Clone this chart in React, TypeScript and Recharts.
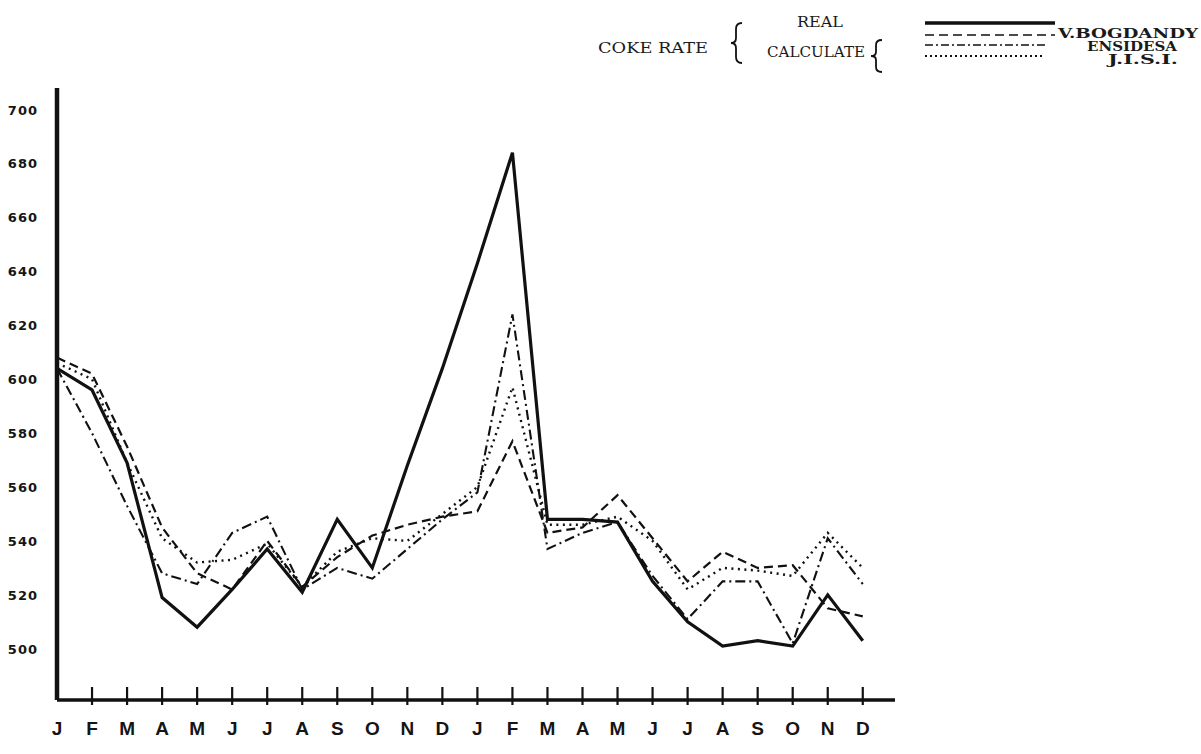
import React from 'react';
import { LineChart, Line, XAxis, YAxis } from 'recharts';

const months = ['J','F','M','A','M','J','J','A','S','O','N','D','J','F','M','A','M','J','J','A','S','O','N','D'];
const realRate = [604,596,569,519,508,522,537,521,548,530,568,604,643,684,548,548,547,525,510,501,503,501,520,503];
const bogdandy = [608,602,575,545,528,522,540,523,534,542,546,549,551,577,543,545,557,541,525,536,530,531,515,512];
const ensidesa = [604,580,553,528,524,543,549,522,530,526,537,548,558,624,537,543,547,527,511,525,525,502,541,524];
const jisi = [606,600,569,541,532,533,539,523,536,541,540,550,560,597,546,546,549,540,522,530,529,527,543,530];
const yTicks = [500,520,540,560,580,600,620,640,660,680,700];
const xTicks = months.map((_, i) => i);

const data = months.map((m, i) => ({
  i,
  month: m,
  real: realRate[i],
  bogdandy: bogdandy[i],
  ensidesa: ensidesa[i],
  jisi: jisi[i],
}));

const MonthTick = (props: any) => {
  const { x, y, payload } = props;
  const idx = payload.value as number;
  return (
    <g>
      {idx > 0 && <line x1={x} x2={x} y1={y - 13} y2={y + 5} stroke="#111" strokeWidth={2.2} />}
      <text x={x} y={y + 35} textAnchor="middle" fontFamily="'Liberation Sans', Arial, sans-serif" fontWeight="bold" fontSize={19} fill="#151515">
        {months[idx]}
      </text>
    </g>
  );
};

const ValueTick = (props: any) => {
  const { x, y, payload } = props;
  return (
    <text x={x} y={y + 5} textAnchor="end" fontFamily="'DejaVu Sans', sans-serif" fontWeight="bold" fontSize={13} letterSpacing={1} fill="#151515">
      {payload.value}
    </text>
  );
};

const serif = "'DejaVu Serif', 'Liberation Serif', serif";

export default function App() {
  return (
    <div style={{ position: 'fixed', left: 0, top: 0, width: 1201, height: 754, background: '#fff' }}>
      <LineChart width={1201} height={754} data={data} margin={{ top: 88, right: 306, left: 0, bottom: 14 }}>
        <XAxis
          dataKey="i"
          type="number"
          domain={[0, 23.92]}
          ticks={xTicks}
          interval={0}
          height={40}
          tickSize={0}
          tickMargin={0}
          tickLine={false}
          axisLine={{ stroke: '#111', strokeWidth: 3.5 }}
          tick={<MonthTick />}
          allowDataOverflow
        />
        <YAxis
          type="number"
          domain={[481, 708]}
          ticks={yTicks}
          width={57}
          tickSize={0}
          tickMargin={19}
          tickLine={false}
          axisLine={{ stroke: '#111', strokeWidth: 4.5 }}
          tick={<ValueTick />}
          allowDataOverflow
        />
        <Line dataKey="real" stroke="#111" strokeWidth={3.2} dot={false} isAnimationActive={false} strokeLinejoin="miter" />
        <Line dataKey="bogdandy" stroke="#111" strokeWidth={2.2} strokeDasharray="9 5" dot={false} isAnimationActive={false} />
        <Line dataKey="ensidesa" stroke="#111" strokeWidth={2.1} strokeDasharray="10 4 2 4" dot={false} isAnimationActive={false} />
        <Line dataKey="jisi" stroke="#111" strokeWidth={2.4} strokeDasharray="2 4.5" dot={false} isAnimationActive={false} />
      </LineChart>
      <svg width={1201} height={754} style={{ position: 'absolute', left: 0, top: 0, pointerEvents: 'none' }}>
        <g fontFamily={serif} fill="#1a1a1a">
          <text x={598} y={53} fontSize={15} textLength={110} lengthAdjust="spacingAndGlyphs">COKE RATE</text>
          <text x={797} y={27} fontSize={15} textLength={46} lengthAdjust="spacingAndGlyphs">REAL</text>
          <text x={767} y={57} fontSize={15} textLength={98} lengthAdjust="spacingAndGlyphs">CALCULATE</text>
          <text x={1058} y={38} fontSize={13} fontWeight="bold" textLength={140} lengthAdjust="spacingAndGlyphs">V.BOGDANDY</text>
          <text x={1087} y={51} fontSize={13} fontWeight="bold" textLength={90} lengthAdjust="spacingAndGlyphs">ENSIDESA</text>
          <text x={1108} y={64} fontSize={13} fontWeight="bold" textLength={70} lengthAdjust="spacingAndGlyphs">J.I.S.I.</text>
        </g>
        <path d="M 742 23 Q 736 23 736 29 L 736 38 Q 736 43 731 43 Q 736 43 736 48 L 736 57 Q 736 63 742 63" fill="none" stroke="#111" strokeWidth={1.8} />
        <path d="M 882 40 Q 876 40 876 45 L 876 52 Q 876 56 871 56 Q 876 56 876 60 L 876 67 Q 876 72 882 72" fill="none" stroke="#111" strokeWidth={1.8} />
        <line x1={925} x2={1055} y1={23} y2={23} stroke="#111" strokeWidth={3.5} />
        <line x1={925} x2={1055} y1={35} y2={35} stroke="#111" strokeWidth={1.6} strokeDasharray="9 5" />
        <line x1={925} x2={1048} y1={45} y2={45} stroke="#111" strokeWidth={1.6} strokeDasharray="8 3 2 3" />
        <line x1={925} x2={1045} y1={56} y2={56} stroke="#111" strokeWidth={1.8} strokeDasharray="2 3" />
      </svg>
    </div>
  );
}
